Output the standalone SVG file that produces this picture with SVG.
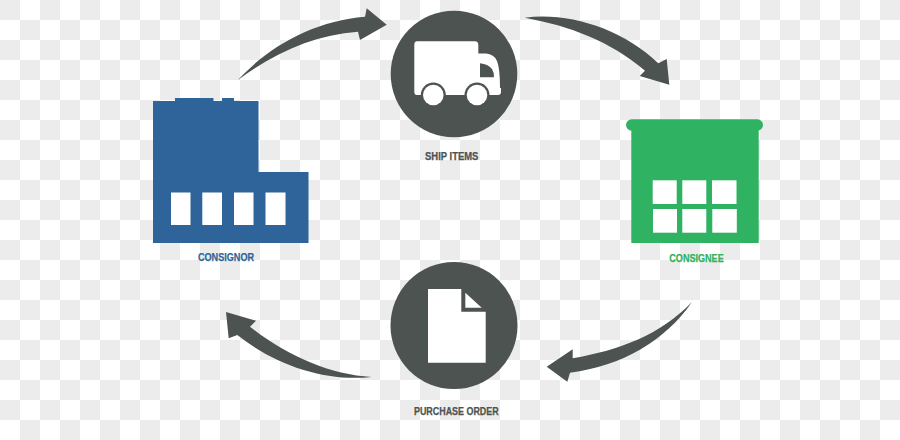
<svg xmlns="http://www.w3.org/2000/svg" width="900" height="440" viewBox="0 0 900 440">
<defs>
<style>
.dark{fill:#4d5351}.blue{fill:#2e6499}.green{fill:#2fb261}.white{fill:#fff}
text{font-family:"Liberation Sans Narrow","Liberation Sans",Arial,sans-serif;font-weight:700;font-size:11.5px;text-anchor:middle;stroke-width:.25px}
text.dark{stroke:#4d5351}text.blue{stroke:#2e6499}text.green{stroke:#2fb261}
</style>
<pattern id="checker" width="40" height="40" patternUnits="userSpaceOnUse">
<rect width="40" height="40" fill="#fff"/>
<rect width="20" height="20" fill="#ececec"/>
<rect x="20" y="20" width="20" height="20" fill="#ececec"/>
</pattern>
</defs>
<rect id="background" width="900" height="440" fill="url(#checker)"/>
<g id="connectors" class="dark">
<path d="M238 80C270 45 315 21 365 16.7L366.7 8.3L386.7 24.7L360 40L358 31.7C315 35 275 52 238 80Z"/>
<path d="M524.7 17.7C570 12 622 29 658.3 63.3L666.7 59L669.3 84.7L639.7 76L645 70.7C610 41 570 26 524.7 17.7Z"/>
<path d="M692 302C660 335 620 350 572.7 358.3L572.7 349.3L546.7 366.7L567.3 381.7L570 372.7C622 366 665 341 692 302Z"/>
<path d="M371.7 377C330 375 285 355 250 326.7L256 320.7L226 312L228.7 338.3L237.3 335C275 365 325 382 371.7 377Z"/>
</g>
<g id="consignor">
<path class="blue" d="M153 101H175V98H213.5V101H222V98H234V101H258.5V172H308.5V243H153Z"/>
<rect class="white" x="171" y="192.5" width="19.5" height="32.5"/>
<rect class="white" x="202.3" y="192.5" width="19.7" height="32.5"/>
<rect class="white" x="234" y="192.5" width="19.5" height="32.5"/>
<rect class="white" x="265.5" y="192.5" width="20" height="32.5"/>
<text class="blue" x="226" y="261" textLength="56" lengthAdjust="spacingAndGlyphs">CONSIGNOR</text>
</g>
<g id="ship-items">
<circle class="dark" cx="454" cy="74" r="63.3"/>
<path class="white" d="M417 41.3H475Q478.3 41.3 478.3 45V53.5H486Q494 54 497 61Q500 68 500 88H501V92Q501 95 498 95H417Q414.3 95 414.3 92V45Q414.3 41.3 417 41.3Z"/>
<path class="dark" d="M480 63.2Q488 64 492 69Q494 72 494 77.3H480Z"/>
<circle class="dark" cx="433.3" cy="95" r="12.5"/>
<circle class="white" cx="433.3" cy="95" r="10.3"/>
<circle class="dark" cx="477" cy="95" r="12.5"/>
<circle class="white" cx="477" cy="95" r="10.3"/>
<text class="dark" x="451.7" y="160.3" textLength="53.3" lengthAdjust="spacingAndGlyphs">SHIP ITEMS</text>
</g>
<g id="consignee">
<rect class="green" x="631.3" y="125" width="127.4" height="118"/>
<rect class="green" x="626" y="119.3" width="137" height="11.4" rx="5.7"/>
<rect class="white" x="652.7" y="180.3" width="24" height="23.7"/>
<rect class="white" x="682.3" y="180.3" width="24" height="23.7"/>
<rect class="white" x="712" y="180.3" width="24.5" height="23.7"/>
<rect class="white" x="653" y="209" width="24" height="23.7"/>
<rect class="white" x="682.3" y="209" width="24" height="23.7"/>
<rect class="white" x="712.3" y="209" width="24.5" height="23.7"/>
<text class="green" x="696.5" y="262" textLength="54.4" lengthAdjust="spacingAndGlyphs">CONSIGNEE</text>
</g>
<g id="purchase-order">
<circle class="dark" cx="454" cy="325.5" r="63.5"/>
<path class="white" d="M428 289H461.3V311.7H485.7V362.7H428Z"/>
<path class="white" d="M465.3 292.7L481.7 307.7H465.3Z"/>
<text class="dark" x="456.3" y="415" textLength="84.7" lengthAdjust="spacingAndGlyphs">PURCHASE ORDER</text>
</g>
</svg>
